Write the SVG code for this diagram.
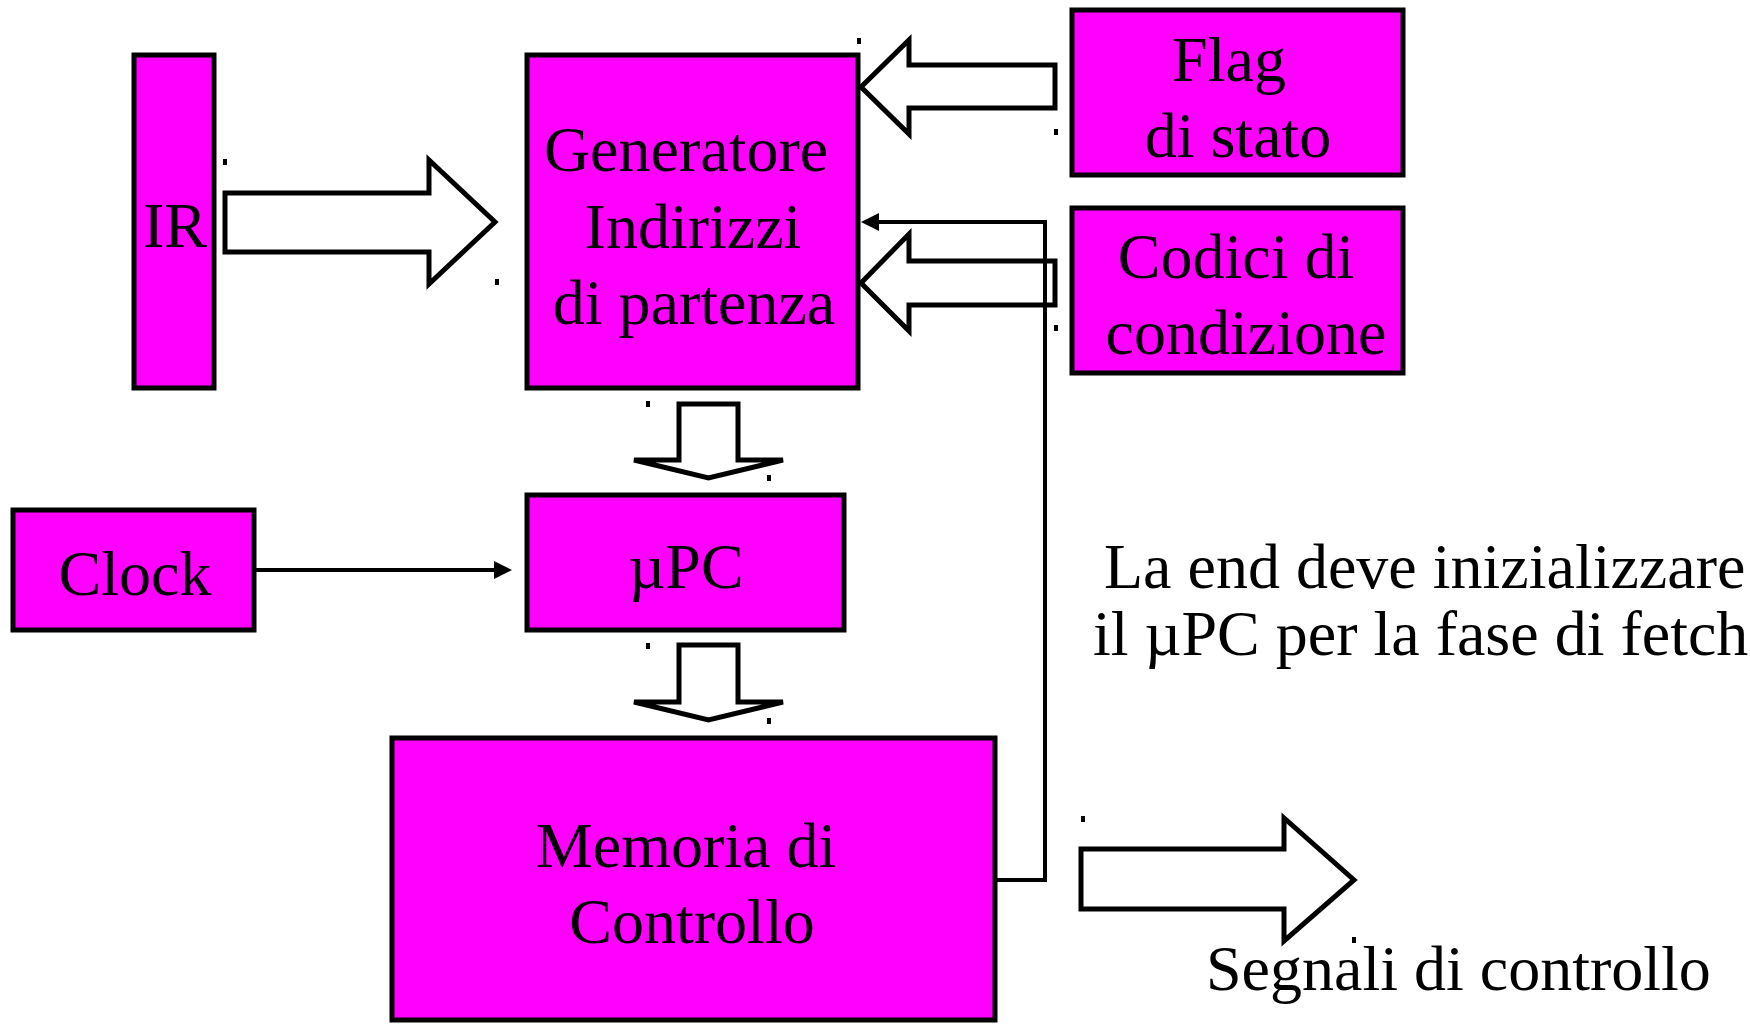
<svg xmlns="http://www.w3.org/2000/svg" width="1750" height="1024" viewBox="0 0 1750 1024">
<style>
.box{fill:#FF00FF;stroke:#000;stroke-width:5}
.t{font-family:"Liberation Serif","Times New Roman",serif;font-size:64px;fill:#000;text-anchor:middle}
.ts{font-family:"Liberation Serif","Times New Roman",serif;font-size:64px;fill:#000}
.big{fill:#fff;stroke:#000;stroke-width:5;stroke-linejoin:miter;stroke-miterlimit:10}
.down{fill:#fff;stroke:#000;stroke-width:5;stroke-linejoin:miter;stroke-miterlimit:4}
.ln{fill:none;stroke:#000;stroke-width:4}
.dot{fill:#000}
</style>
<rect width="1750" height="1024" fill="#fff"/>
<g id="connectors">
<polygon class="big" points="225,193 429,193 429,160 495,222 429,284 429,252 225,252"/>
<polygon class="big" points="1055,65 909,65 909,40 861,87 909,134 909,108 1055,108"/>
<polygon class="big" points="1055,261 909,261 909,234 861,283 909,331 909,305 1055,305"/>
<polygon class="down" points="679,404 738,404 738,460 783,460 708.5,478 634,460 679,460"/>
<polygon class="down" points="679,645 738,645 738,702 783,702 708.5,720 634,702 679,702"/>
<polygon class="big" points="1081,849 1284,849 1284,818 1354,880 1284,941 1284,909 1081,909"/>
<line class="ln" x1="256" y1="570" x2="497" y2="570" stroke-width="3"/>
<polygon points="494,561 512,570 494,579" fill="#000"/>
<polyline class="ln" points="996,880 1045,880 1045,222 876,222"/>
<polygon points="879,213 861,222 879,231" fill="#000"/>
</g>
<g id="IR">
<rect class="box" x="134" y="55" width="80" height="333"/>
<text class="t" x="175" y="247">IR</text>
</g>
<g id="generatore">
<rect class="box" x="527" y="55" width="331" height="333"/>
<text class="t" x="686" y="171">Generatore</text>
<text class="t" x="693" y="248">Indirizzi</text>
<text class="t" x="694" y="324">di partenza</text>
</g>
<g id="flag">
<rect class="box" x="1072" y="10" width="331" height="165"/>
<text class="t" x="1229" y="81">Flag</text>
<text class="t" x="1238" y="157">di stato</text>
</g>
<g id="codici">
<rect class="box" x="1072" y="208" width="331" height="165"/>
<text class="t" x="1236" y="278">Codici di</text>
<text class="t" x="1246" y="354">condizione</text>
</g>
<g id="clock">
<rect class="box" x="13" y="510" width="241" height="120"/>
<text class="t" x="135" y="595">Clock</text>
</g>
<g id="upc">
<rect class="box" x="527" y="495" width="317" height="135"/>
<text class="t" x="686" y="588">µPC</text>
</g>
<g id="memoria">
<rect class="box" x="392" y="738" width="603" height="282"/>
<text class="t" x="686" y="867">Memoria di</text>
<text class="t" x="692" y="943">Controllo</text>
</g>
<g id="note">
<text class="ts" x="1104" y="588">La end deve inizializzare</text>
<text class="ts" x="1093" y="655">il µPC per la fase di fetch</text>
</g>
<g id="segnali">
<text class="ts" x="1206" y="990">Segnali di controllo</text>
</g>
<g id="marks">
<rect class="dot" x="223" y="159" width="4" height="6"/>
<rect class="dot" x="495" y="279" width="4" height="6"/>
<rect class="dot" x="857" y="38" width="4" height="6"/>
<rect class="dot" x="1054" y="129" width="4" height="6"/>
<rect class="dot" x="1054" y="325" width="4" height="6"/>
<rect class="dot" x="646" y="401" width="4" height="6"/>
<rect class="dot" x="767" y="475" width="4" height="6"/>
<rect class="dot" x="646" y="643" width="4" height="6"/>
<rect class="dot" x="767" y="718" width="4" height="6"/>
<rect class="dot" x="1081" y="816" width="4" height="6"/>
<rect class="dot" x="1352" y="937" width="4" height="6"/>
</g>
</svg>
